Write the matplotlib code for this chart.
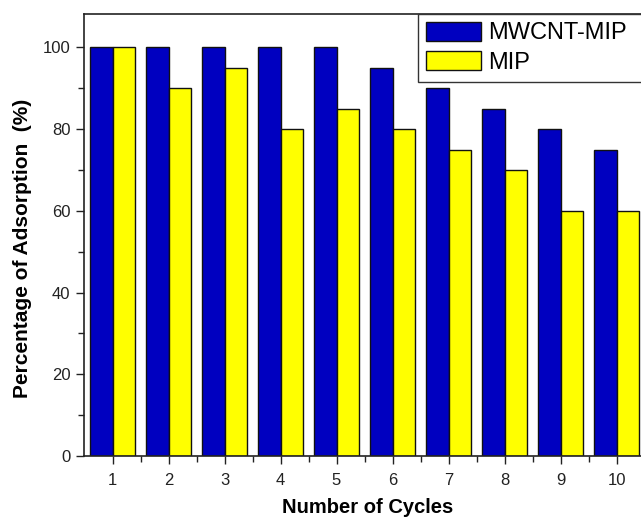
import matplotlib
matplotlib.use("Agg")
import matplotlib.pyplot as plt
import numpy as np

plt.rcParams['font.family'] = ['Liberation Sans', 'DejaVu Sans']

cycles = [1, 2, 3, 4, 5, 6, 7, 8, 9, 10]
mwcnt_mip = [100, 100, 100, 100, 100, 95, 90, 85, 80, 75]
mip = [100, 90, 95, 80, 85, 80, 75, 70, 60, 60]
series_names = ["MWCNT-MIP", "MIP"]

W, H = 641, 521
fig = plt.figure(figsize=(W/100, H/100), dpi=100)
left, right, top, bottom = 84.5, 644.5, 14, 456
ax = fig.add_axes([left/W, 1-bottom/H, (right-left)/W, (bottom-top)/H])

x = np.array(cycles)
w = 0.4
ax.bar(x - w, mwcnt_mip, width=w, align='edge', color='#0000C0', edgecolor='#111111', linewidth=1.0, label=series_names[0])
ax.bar(x, mip, width=w, align='edge', color='#FFFF00', edgecolor='#111111', linewidth=1.0, label=series_names[1])

ax.set_xlim(0.5, 10.5)
ax.set_ylim(0, 108.2)
ax.set_xticks(cycles)
ax.set_xticks(np.arange(1.5, 10.5, 1), minor=True)
ax.set_yticks([0, 20, 40, 60, 80, 100])
ax.set_yticks([10, 30, 50, 70, 90], minor=True)
ax.tick_params(axis='both', which='major', direction='out', length=6, width=1, labelsize=12, colors='#222222')
ax.tick_params(axis='both', which='minor', direction='out', length=4, width=1, colors='#222222')
ax.tick_params(axis='x', which='major', pad=6)
ax.tick_params(axis='y', which='major', pad=4)
for s in ax.spines.values():
    s.set_linewidth(1.2)
    s.set_color('#222222')

ax.set_xlabel("Number of Cycles", fontsize=14.5, fontweight='bold')
ax.set_ylabel("Percentage of Adsorption  (%)", fontsize=15, fontweight='bold')
ax.xaxis.set_label_coords(0.506, -(513 - 456) / 442, transform=ax.transAxes)
ax.xaxis.label.set_va('baseline')
ax.yaxis.set_label_coords(-(84.5 - 28) / 560, 0.469, transform=ax.transAxes)
ax.yaxis.label.set_va('baseline')

leg_h = 0.2
leg = fig.legend(loc='upper left', bbox_to_anchor=(418/W, 1-14/H - leg_h, 240/W, leg_h),
                 bbox_transform=fig.transFigure, mode='expand',
                 fontsize=17, frameon=True, fancybox=False, edgecolor='#333333', framealpha=1,
                 borderaxespad=0, handlelength=2.33, handleheight=0.85, handletextpad=0.3,
                 labelspacing=0.3, borderpad=0.33)
leg.get_frame().set_linewidth(1.0)

fig.savefig("out.png", dpi=100)
